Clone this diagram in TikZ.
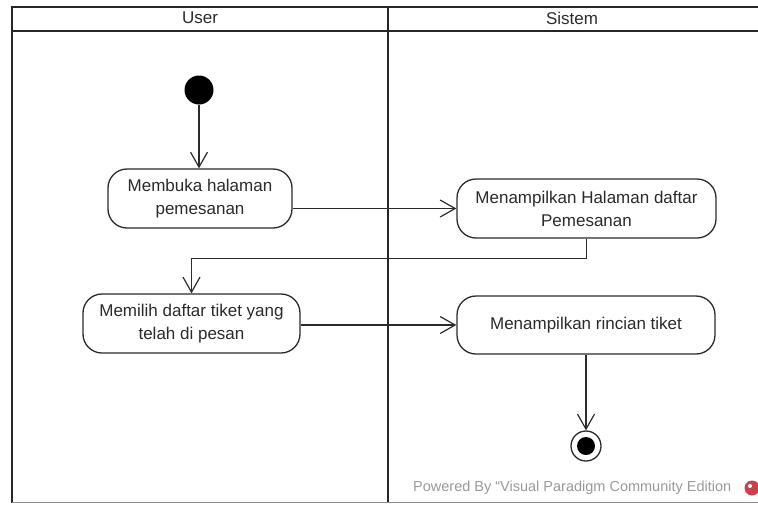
\documentclass[tikz,border=0pt]{standalone}
\usepackage{fontspec}
\setmainfont{Liberation Sans}
\usetikzlibrary{arrows.meta}
\definecolor{ink}{HTML}{2B2B2B}
\definecolor{wm}{HTML}{9A9A9A}
\definecolor{vpred}{HTML}{C8414B}
\begin{document}
\begin{tikzpicture}[x=1pt,y=-1pt,
  lane/.style={draw=black!85,line width=2.4pt},
  act/.style={draw=ink,line width=1.3pt,fill=white,rounded corners=19pt,
    align=center,text=ink,inner sep=0pt,minimum height=59pt,
    font=\fontsize{17}{23}\selectfont},
  flow/.style={draw=ink,line width=1.2pt,-{Straight Barb[length=15pt,width=17pt,line width=1.2pt]}},
  hdr/.style={text=ink,font=\fontsize{17}{20}\selectfont,inner sep=0pt}]
\useasboundingbox (0,0) rectangle (758,504);
% swimlane frame
\draw[lane] (12,7) -- (758,7);
\draw[lane] (12,31) -- (758,31);
\draw[lane] (12,6) -- (12,503);
\draw[lane] (388,6) -- (388,503);
\draw[draw=black!45,line width=1.2pt] (12,502.5) -- (758,502.5);
\node[hdr] (huser) at (200,18) {User};
\node[hdr] (hsis) at (572,18) {Sistem};
% nodes
\node[circle,fill=black,minimum size=29pt,inner sep=0pt] (start) at (199,90) {};
\node[act,minimum width=184pt] (b1) at (200,198.5) {Membuka halaman\\pemesanan};
\node[act,minimum width=259pt] (b2) at (586.5,208.5) {Menampilkan Halaman daftar\\Pemesanan};
\node[act,minimum width=217pt] (b3) at (191.5,323.5) {Memilih daftar tiket yang\\telah di pesan};
\node[act,minimum width=258pt,minimum height=58pt] (b4) at (586,325) {Menampilkan rincian tiket};
\node[circle,draw=ink,line width=1.3pt,minimum size=30pt,inner sep=0pt] (end) at (586,446) {};
\node[circle,fill=black,minimum size=18pt,inner sep=0pt] (endin) at (end.center) {};
% connectors
\draw[flow] (start) -- (start |- b1.north);
\draw[flow] (b1.east |- b2.west) -- (b2.west);
\draw[flow] (b2.south) -- ++(0,20) -| (b3.north);
\draw[flow] (b3.east |- b4.west) -- (b4.west);
\draw[flow] (b4.south) -- (end.north);
% watermark
\node[text=wm,font=\fontsize{14.5}{16}\selectfont,anchor=west,inner sep=0pt] (wmark) at (413,488) {Powered By ``Visual Paradigm Community Edition};
\node[circle,fill=vpred,minimum size=15pt,inner sep=0pt] (logo) at (752,488) {};
\node[circle,fill=white,minimum size=4pt,inner sep=0pt] (logodot) at (750,486) {};
\end{tikzpicture}
\end{document}
